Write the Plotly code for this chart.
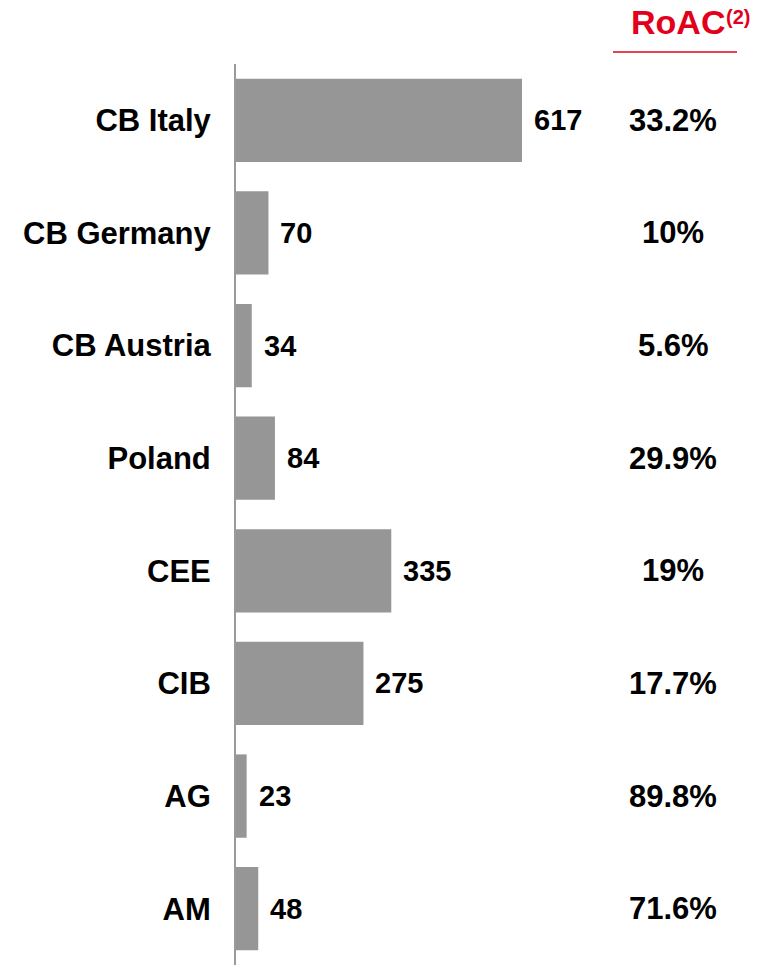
import plotly.graph_objects as go

segments = ["CB Italy", "CB Germany", "CB Austria", "Poland", "CEE", "CIB", "AG", "AM"]
values = [617, 70, 34, 84, 335, 275, 23, 48]
roac = ["33.2%", "10%", "5.6%", "29.9%", "19%", "17.7%", "89.8%", "71.6%"]

W, H = 764, 965
L, R, T, B = 236, 0, 64, 0
RED = "#E2001A"
FONT = "Liberation Sans, Arial, sans-serif"
PW = W - L - R
PH = H - T - B


def px_x(pix):
    return (pix - L) / PW


def px_y(pix):
    return (H - B - pix) / PH


fig = go.Figure()
fig.add_trace(go.Bar(
    x=values,
    y=segments,
    orientation="h",
    marker_color="#969696",
    marker_line_width=0,
    hoverinfo="skip",
))

# bar value labels
for seg, v in zip(segments, values):
    fig.add_annotation(
        x=v, y=seg, xref="x", yref="y",
        text=f"<b>{v}</b>", showarrow=False,
        xanchor="left", xshift=10,
        font=dict(size=29, color="black", family=FONT),
    )

# RoAC column
col_x = px_x(673)
for seg, r in zip(segments, roac):
    fig.add_annotation(
        x=col_x, y=seg, xref="paper", yref="y",
        text=f"<b>{r}</b>", showarrow=False, xanchor="center",
        font=dict(size=31, color="black", family=FONT),
    )

# header
fig.add_annotation(
    x=px_x(629), y=px_y(22), xref="paper", yref="paper",
    text="<b>RoAC</b>",
    showarrow=False, xanchor="left", yanchor="middle",
    font=dict(size=34, color=RED, family=FONT),
)
fig.add_annotation(
    x=px_x(724), y=px_y(17), xref="paper", yref="paper",
    text="<b>(2)</b>",
    showarrow=False, xanchor="left", yanchor="middle",
    font=dict(size=20, color=RED, family=FONT),
)
fig.add_shape(
    type="line", xref="paper", yref="paper",
    x0=px_x(613), x1=px_x(737),
    y0=px_y(52), y1=px_y(52),
    line=dict(color=RED, width=1.5),
)

fig.update_layout(
    width=W, height=H,
    margin=dict(l=L, r=R, t=T, b=B),
    paper_bgcolor="white", plot_bgcolor="white",
    bargap=0.26,
    showlegend=False,
)
fig.update_xaxes(range=[0, PW / 0.4635], visible=False)
fig.update_yaxes(
    autorange="reversed",
    showline=True, linecolor="#9a9a9a", linewidth=2,
    showgrid=False, ticks="", ticklabelstandoff=17,
    tickfont=dict(size=31, color="black", family=FONT, weight="bold"),
)

# drop the default body margin so the figure sits at the window's corner
fig.write_html(
    "out.html",
    config={"displayModeBar": False},
    post_script="document.body.style.margin='0';",
)
